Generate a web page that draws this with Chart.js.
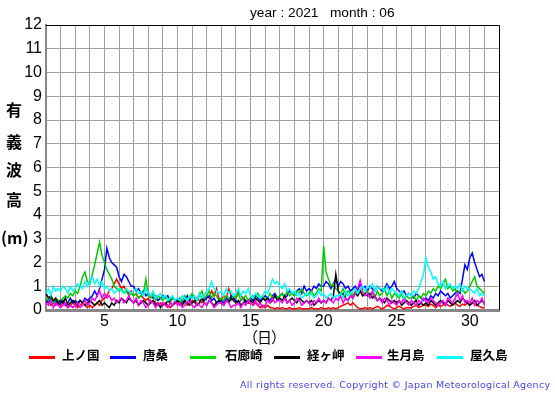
<!DOCTYPE html>
<html>
<head>
<meta charset="utf-8">
<script src="https://cdn.jsdelivr.net/npm/chart.js@4"></script>
<style>
  html,body{margin:0;padding:0;background:#fff;}
  #wrap{position:relative;width:555px;height:395px;overflow:hidden;}
  canvas{position:absolute;left:0;top:0;}
  .t{position:absolute;white-space:pre;color:#000;line-height:1;}
  .yl{position:absolute;left:0;width:28px;text-align:center;font-family:"Noto Sans CJK JP";font-weight:bold;font-size:16px;line-height:1;white-space:pre;}
  .lg{position:absolute;height:3px;top:356px;width:26px;}
  .lt{position:absolute;top:349px;font-family:"Noto Sans CJK JP";font-weight:bold;font-size:12.5px;line-height:1;white-space:pre;}
</style>
</head>
<body>
<div id="wrap">
<canvas id="c" width="555" height="395"></canvas>
<div class="t" style="left:250px;top:6px;font-family:'Liberation Sans';font-size:13.7px;">year : 2021   month : 06</div>
<div class="yl" style="top:101px;">有</div>
<div class="yl" style="top:133px;">義</div>
<div class="yl" style="top:161px;">波</div>
<div class="yl" style="top:191px;">高</div>
<div class="yl" style="top:229px;left:1px;width:auto;text-align:left;letter-spacing:0px;">(m)</div>
<div class="t" style="left:243px;top:329px;font-family:'Noto Sans CJK JP';font-size:15px;letter-spacing:-1px;">（日）</div>
<div id="legend"></div>
<div class="t" style="left:240px;top:380px;font-family:'DejaVu Sans';font-size:9.5px;letter-spacing:0.3px;color:#4444ee;">All rights reserved. Copyright © Japan Meteorological Agency</div>
</div>
<script>
const stationNames = ["上ノ国","唐桑","石廊崎","経ヶ岬","生月島","屋久島"];
const stationColors = ["#ff0000","#0000ff","#00cc00","#000000","#ff00ff","#00ffff"];
const yTicks = [0,1,2,3,4,5,6,7,8,9,10,11,12];
const xTickLabels = [5,10,15,20,25,30];
const pointsPerDay = 6;
const firstDay = 1;

const kaminokuni = [.3,.4,.2,.3,.2,.3, .2,.3,.2,.1,.2,.3, .2,.1,.2,.3,.2,.1,
 .2,.1,.2,.3,.2,.4, .5,.6,.8,.9,1.1,1.3, 1.1,.9,1.0,.8,.7,.8,
 .6,.7,.5,.6,.5,.4, .5,.3,.4,.3,.2,.3, .2,.3,.2,.1,.2,.3,
 .3,.2,.4,.3,.2,.3, .4,.3,.5,.4,.3,.5, .6,.5,.8,.6,.9,.5,
 .4,.6,.5,.9,.6,.4, .5,.8,.6,.5,.4,.3, .3,.2,.3,.2,.1,.2,
 .1,.2,.1,.1,.05,.1, .05,.1,.05,.05,.1,.05, .05,.05,.1,.05,.05,.05,
 .05,.1,.05,.05,.05,.1, .05,.05,.1,.05,.1,.05, .1,.15,.2,.25,.3,.2,
 .3,.2,.1,.05,.05,.1, .05,.1,.05,.1,.15,.1, .05,.1,.2,.15,.1,.05,
 .1,.15,.1,.05,.1,.1, .1,.15,.2,.1,.15,.2, .2,.15,.25,.2,.1,.2,
 .15,.2,.3,.2,.15,.25, .3,.2,.15,.25,.2,.3, .2,.3,.25,.2,.15,.1, .1];

const karakuwa = [.4,.3,.5,.3,.4,.2, .3,.4,.2,.3,.5,.3, .4,.3,.4,.3,.5,.4,
 .5,.6,.8,.6,.9,1.3, 1.7,2.6,2.2,2.0,1.9,1.8, 1.4,1.2,1.5,1.4,1.2,1.0,
 1.0,.8,.9,.7,.8,.6, .7,.6,.5,.6,.4,.5, .6,.5,.6,.4,.5,.4,
 .4,.5,.3,.4,.6,.4, .6,.5,.4,.7,.5,.4, .5,.6,.4,.5,.3,.4,
 .4,.3,.5,.4,.6,.5, .4,.3,.4,.5,.3,.4, .5,.4,.6,.5,.4,.5,
 .6,.5,.4,.6,.7,.5, .6,.7,.5,.6,.8,.7, .6,.8,.9,.7,1.0,.8,
 .9,.8,1.0,.9,1.1,1.0, 1.0,1.2,1.1,.9,1.1,1.3, 1.0,1.2,1.1,.9,1.0,.8,
 .9,1.0,.8,1.1,.9,1.0, .8,1.0,.9,.8,1.0,.9, .8,.9,1.1,.9,1.0,1.2,
 .9,.8,.7,.8,.6,.7, .6,.5,.7,.6,.5,.4, .5,.4,.6,.5,.7,.6,
 .8,.7,.6,.7,.5,.6, .7,.8,.7,1.3,1.9,1.7, 2.2,2.4,2.0,1.7,1.4,1.5, 1.2];

const irozaki = [.5,.4,.6,.3,.5,.4, .4,.5,.6,.5,.7,.6, .8,.7,1.0,1.4,1.6,1.2,
 1.1,1.5,1.9,2.4,2.85,2.3, 2.0,1.7,1.5,1.3,1.0,.9, .8,.9,.7,.8,.6,.7,
 .6,.7,.5,.6,.7,1.3, .6,.5,.7,.4,.6,.5, .4,.6,.5,.3,.5,.4,
 .5,.3,.4,.6,.4,.5, .7,.5,.4,.6,.8,.5, .6,.8,.5,.7,.6,.4,
 .5,.4,.6,.5,.4,.6, .5,.7,.4,.5,.6,.4, .5,.6,.4,.7,.5,.6,
 .4,.5,.7,.5,.6,.5, .6,.7,.5,.8,.6,.7, .6,.8,.7,.9,.7,.6,
 .7,.8,.6,.7,.9,.8, 2.7,1.6,1.3,1.0,1.1,.9, .8,.7,.9,.6,.8,.7,
 .6,.8,.7,.9,.6,.7, .8,.6,.7,.5,.8,.6, .7,.9,.6,.8,.5,.7,
 .6,.5,.7,.4,.6,.5, .5,.6,.4,.6,.5,.7, .6,.8,.7,.9,.8,1.0,
 .9,1.1,1.3,.9,1.0,.8, .9,.7,.8,.9,.7,.8, 1.0,1.2,1.4,1.0,.9,.8, .7];

const kyogamisaki = [.7,.5,.6,.4,.5,.3, .4,.3,.5,.2,.3,.4, .3,.2,.4,.3,.2,.3,
 .4,.3,.2,.3,.4,.2, .3,.2,.1,.3,.2,.4, .3,.5,.4,.3,.5,.4,
 .3,.4,.2,.3,.4,.3, .2,.3,.4,.2,.3,.1, .3,.2,.4,.3,.2,.3,
 .4,.3,.2,.4,.3,.2, .3,.4,.2,.3,.5,.3, .2,.4,.3,.2,.3,.4,
 .3,.2,.4,.3,.5,.4, .3,.4,.2,.3,.4,.3, .4,.3,.5,.4,.3,.5,
 .4,.5,.3,.4,.6,.4, .5,.4,.6,.3,.4,.5, .4,.3,.5,.4,.3,.4,
 .3,.4,.2,.3,.4,.3, .4,.3,.5,.4,.6,1.5, .8,.6,.7,.5,.4,.6,
 .5,.7,.6,.8,.6,.7, .6,.7,.5,.6,.4,.5, .4,.3,.5,.4,.3,.4,
 .3,.4,.2,.3,.4,.3, .2,.3,.4,.2,.3,.2, .3,.2,.4,.3,.2,.3,
 .4,.3,.2,.4,.3,.2, .3,.4,.3,.5,.4,.3, .2,.3,.4,.2,.3,.4, .3];

const ikitsukishima = [.3,.2,.4,.1,.3,.2, .1,.2,.3,.1,.2,.1, .2,.3,.1,.2,.4,.2,
 .3,.5,.4,.6,.8,.5, .7,.5,.6,.4,.5,.3, .4,.5,.3,.4,.6,.4,
 .3,.5,.2,.4,.3,.1, .2,.4,.3,.1,.3,.2, .3,.2,.1,.3,.2,.4,
 .2,.3,.1,.2,.4,.3, .2,.1,.3,.2,.1,.3, .2,.4,.3,.1,.2,.3,
 .3,.2,.4,.3,.1,.2, .2,.3,.1,.3,.2,.4, .3,.2,.4,.2,.3,.1,
 .2,.4,.3,.5,.3,.4, .4,.3,.5,.3,.4,.2, .3,.5,.4,.2,.3,.4,
 .3,.2,.4,.3,.5,.3, .4,.3,.5,.4,.3,.5, .4,.6,.3,.5,.4,.6,
 .5,.7,.9,1.25,.8,.6, .7,.5,.8,.6,.4,.5, .3,.5,.4,.2,.4,.3,
 .2,.4,.3,.5,.3,.2, .4,.3,.2,.4,.3,.5, .4,.3,.5,.4,.3,.2,
 .3,.4,.2,.5,.4,.3, .5,.7,.4,.6,.3,.4, .3,.5,.2,.4,.3,.5, .2];

const yakushima = [.7,.9,.6,1.0,.8,.9, .8,1.0,.9,.7,1.0,.8, .9,1.1,1.0,.9,1.2,1.0,
 1.2,1.4,1.1,1.3,1.0,1.2, .9,1.0,.8,.9,.7,.8, .9,.8,.7,.9,.8,.7,
 .8,.9,.7,.8,.6,.9, .7,.6,.8,.5,.6,.7, .5,.6,.4,.5,.6,.4,
 .5,.4,.6,.5,.4,.6, .5,.6,.4,.7,.5,.6, .8,.9,1.2,.9,.8,.7,
 .8,.6,.9,.7,.8,.6, .7,.9,.6,.8,.7,.9, .6,.5,.7,.6,.5,.6,
 .8,.7,1.0,1.3,1.1,1.2, 1.0,.9,1.1,.8,.9,.7, .8,.6,.7,.5,.6,.7,
 .6,.7,.5,.6,.8,.6, .7,.5,.6,.7,.5,.6, .6,.7,.5,.8,.6,.7,
 .8,.9,.7,.9,1.0,.8, 1.0,.9,1.1,.8,1.0,.9, .9,.8,1.0,.7,.9,.8,
 .7,.6,.8,.5,.6,.7, .6,.8,.7,.9,1.2,1.5, 2.2,1.8,1.6,1.3,1.4,1.1,
 1.0,1.2,.9,1.0,1.1,.9, 1.0,.9,1.1,.8,1.0,.9, .9,.8,.7,.9,.6,.7, .6];

const seriesValues = [kaminokuni, karakuwa, irozaki, kyogamisaki, ikitsukishima, yakushima];

const toPoints = arr => arr.map((v, i) => ({x: firstDay + i / pointsPerDay, y: v}));

const datasets = seriesValues.map((arr, k) => ({
  label: stationNames[k],
  data: toPoints(arr),
  borderColor: stationColors[k],
  borderWidth: 1.5,
  pointRadius: 0,
  tension: 0,
  fill: false,
  order: seriesValues.length - k
}));

// HTML legend
const legendX = [29, 110, 190, 274, 356, 437];
const legendTextX = [62, 143, 225, 307, 387, 470];
const lg = document.getElementById('legend');
stationNames.forEach((n, k) => {
  const l = document.createElement('div');
  l.className = 'lg';
  l.style.left = legendX[k] + 'px';
  l.style.background = stationColors[k] === '#00cc00' ? '#00dd00' : stationColors[k];
  lg.appendChild(l);
  const t = document.createElement('div');
  t.className = 'lt';
  t.style.left = legendTextX[k] + 'px';
  t.textContent = n;
  lg.appendChild(t);
});

const frame = {
  id: 'frame',
  afterDraw(chart) {
    const {ctx, chartArea: {left, top, right, bottom}} = chart;
    ctx.save();
    ctx.strokeStyle = '#000';
    ctx.lineWidth = 1;
    ctx.beginPath();
    ctx.moveTo(left, top + 0.5);
    ctx.lineTo(right + 0.5, top + 0.5);
    ctx.lineTo(right + 0.5, bottom);
    ctx.stroke();
    ctx.restore();
  }
};

new Chart(document.getElementById('c'), {
  type: 'line',
  data: {datasets},
  options: {
    responsive: false,
    animation: false,
    devicePixelRatio: 1,
    layout: {padding: {left: 0, top: 25, right: 56, bottom: 0}},
    plugins: {legend: {display: false}, tooltip: {enabled: false}, title: {display: false}},
    scales: {
      x: {
        type: 'linear', min: 1, max: 32,
        afterFit(s) { s.height = 85; },
        grid: {color: '#a0a0a0', lineWidth: 1, drawTicks: false},
        border: {color: '#888', width: 3},
        ticks: {
          stepSize: 1, autoSkip: false, maxRotation: 0, padding: 2,
          color: '#000', font: {family: 'Liberation Sans', size: 16},
          callback: v => xTickLabels.includes(v) ? String(v) : ''
        }
      },
      y: {
        type: 'linear', min: yTicks[0], max: yTicks[yTicks.length - 1],
        afterFit(s) { s.width = 46; },
        grid: {color: '#a0a0a0', lineWidth: 1, drawTicks: false},
        border: {color: '#888', width: 2},
        ticks: {
          stepSize: 1, padding: 4, color: '#000',
          font: {family: 'Liberation Sans', size: 16}
        }
      }
    }
  },
  plugins: [frame]
});
</script>
</body>
</html>
